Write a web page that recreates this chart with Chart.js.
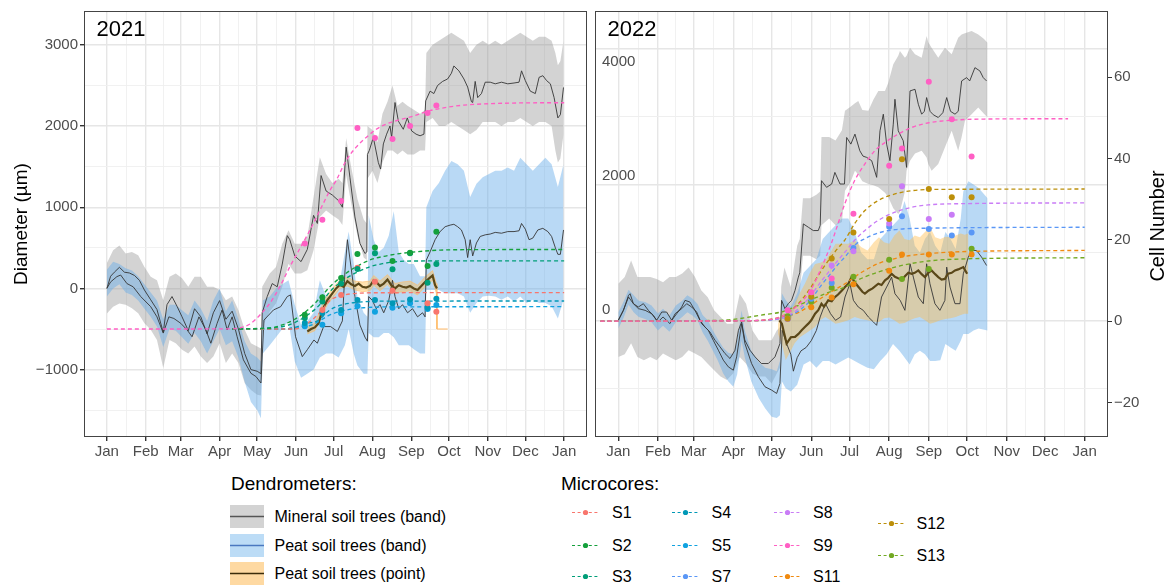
<!DOCTYPE html>
<html><head><meta charset="utf-8">
<script src="https://cdn.jsdelivr.net/npm/chart.js@4.4.1/dist/chart.umd.min.js"></script>
<style>
html,body{margin:0;padding:0;background:#fff;width:1171px;height:585px;overflow:hidden;font-family:"Liberation Sans",Arial,sans-serif;}
#c1{position:absolute;left:0;top:0;width:590px;height:470px;}
#c2{position:absolute;left:590px;top:0;width:581px;height:470px;}
.lg{position:absolute;color:#000;white-space:nowrap;font-family:"Liberation Sans",Arial,sans-serif;}
.key{position:absolute;line-height:0;}
.key svg{display:block;}
</style></head><body>
<canvas id="c1" width="590" height="470"></canvas>
<canvas id="c2" width="581" height="470"></canvas>
<script>
// ---------------- axis / label data ----------------
const monthDays = [0,31,59,90,120,151,181,212,243,273,304,334,365];
const monthLabels = ['Jan','Feb','Mar','Apr','May','Jun','Jul','Aug','Sep','Oct','Nov','Dec','Jan'];
const panelLabels = ['2021','2022'];
const yTicks21 = [-1500,-1000,-500,0,500,1000,1500,2000,2500,3000];
const yTicks22 = [-1000,0,1000,2000,3000,4000];
const yLabels22 = [4000,2000,0];
const cellTicks = [-20,0,20,40,60];
const yTitle = 'Diameter (µm)';
const y2Title = 'Cell Number';

// ---------------- 2021 dendrometers ----------------
const min21Day = [0,3,6,10,14,18,22,26,30,35,40,45,48,52,56,60,65,70,75,80,85,90,95,100,105,110,115,120,123,124,128,132,136,140,144,146,150,155,160,165,168,171,175,180,185,188,191,194,198,202,206,207.5,208,209.5,212.7,216.7,218.5,220.7,223.3,226,227.3,230,232.7,236.6,239.8,243.3,246.8,250,253.1,254.5,258,261,264,268,272,275,277,281,285,288,291,292,294,296,299,302,306,310,315,320,325,329,331,334,338,342,345,348,351,354,357,360,362,364.5];
const min21Val = [0,150,200,260,200,190,160,100,-20,-140,-260,-540,-200,-100,-220,-350,-520,-250,-350,-560,-300,-150,-380,-280,-500,-800,-1000,-1020,-1050,-300,-100,60,20,300,650,600,400,330,480,900,800,1390,1200,1150,1080,1000,1740,1370,880,555,430,450,1650,1700,1860,1550,1470,1780,1900,2000,1860,2290,2060,1960,2100,1940,1900,1880,1900,2310,2430,2400,2500,2550,2580,2650,2740,2680,2580,2480,2300,2290,2550,2350,2400,2540,2540,2520,2540,2520,2530,2540,2680,2560,2430,2400,2600,2620,2560,2520,2350,2100,2140,2475];
const min21BDay = [0,5,10,15,20,25,30,35,40,45,50,55,60,65,70,75,80,85,90,95,100,105,110,115,120,123,124,130,135,140,145,150,155,160,165,170,175,180,185,188,191,195,200,205,207.5,208,212,216,220,224,228,232,236,240,245,250,254,255,260,265,270,275,280,285,290,295,300,305,310,315,320,325,330,335,340,345,350,355,358,360,362,364.5];
const min21Hi = [310,470,530,430,450,410,265,145,100,-145,145,185,125,20,145,145,20,20,-20,-145,-100,-265,-510,-675,-715,-740,20,185,265,550,715,550,550,635,1125,1615,1410,1300,1350,1300,1850,1500,1100,850,800,2000,1950,1800,2150,2300,2500,2250,2300,2250,2200,2150,2200,2900,3000,3050,3100,3150,3100,3050,2900,3000,3050,3000,3050,3000,3050,3100,3150,3100,3050,3100,3100,3050,2900,2750,2800,3050];
const min21Lo = [-310,-225,-185,-200,-245,-305,-430,-510,-635,-980,-635,-675,-755,-800,-715,-840,-920,-840,-675,-920,-800,-920,-1165,-1250,-1310,-1320,-480,-285,-185,20,305,185,185,225,470,880,960,900,850,780,1400,1050,650,380,350,1350,1450,1300,1550,1700,1700,1650,1700,1650,1650,1700,1700,2050,2100,2000,2000,2050,2000,1950,1900,1950,2050,2050,2050,2000,2050,2050,2100,2050,2000,2050,2050,2000,1700,1550,1600,1900];

const peat21Day = [0,3,8,11,16,21,27,35,40,45,49.5,53.5,59,64,68,73.5,79,83,88,92,96,100,104,109,115,119,123,125.4,133,138.7,144,146.6,150.6,156,160,165.3,168,173,178.6,184,188,190,192,195,198,202,206,208,209,212,215,218,221,225,228,230,233,236,240,244,248,252,254,255,258,262,266,270,274,277,280,283,286,288,290,292,295,298,302,306,310,315,320,325,329,331,334,337,340,344,348,352,355,358,360,362,364.5];
const peat21Val = [0,80,145,165,60,20,-100,-225,-350,-550,-350,-370,-430,-510,-595,-350,-510,-675,-430,-265,-510,-350,-595,-880,-1045,-1085,-1165,-390,-265,-225,-100,-80,-595,-840,-755,-635,-675,-470,-470,-530,-400,200,600,250,-100,-450,-600,-650,-100,-150,-250,-200,-300,-150,100,-100,-250,-200,-300,-250,-350,-300,-350,350,450,600,700,760,780,790,760,720,600,380,600,400,560,640,660,670,690,680,700,700,710,800,730,600,620,720,740,700,640,500,420,420,720];
const peat21BDay = [0,5,10,15,20,25,30,35,40,45,50,55,60,65,70,75,80,85,90,95,100,105,110,115,120,123,124.5,130,135,140,145,150,155,160,165,170,175,180,185,190,193,197,200,205,208,209,213,217,221,225,229,233,237,241,245,250,254,255,260,265,270,275,280,285,290,295,300,305,310,315,320,325,330,335,340,345,350,355,360,364.5];
const peat21Hi = [230,330,300,250,220,150,50,-50,-150,-380,-200,-200,-270,-330,-150,-250,-400,-150,0,-280,-150,-380,-650,-800,-850,-900,-150,-100,0,50,100,-200,-450,-400,-300,100,-100,-100,0,450,700,300,-100,-300,-350,900,600,450,500,650,950,450,350,300,300,150,150,1000,1200,1300,1450,1570,1530,1450,1125,1290,1370,1410,1450,1450,1490,1450,1610,1530,1450,1530,1610,1530,1250,1530];
const peat21Lo = [-100,0,50,-50,-80,-150,-250,-350,-470,-720,-500,-520,-600,-680,-550,-650,-800,-650,-500,-700,-650,-850,-1150,-1400,-1500,-1600,-800,-700,-600,-500,-400,-900,-1100,-1050,-1000,-850,-800,-800,-850,-700,-500,-800,-950,-1050,-1050,-550,-600,-600,-550,-550,-600,-700,-700,-700,-750,-800,-800,-20,-20,-20,-60,-60,-60,-100,-300,-180,-100,-90,-100,-140,-100,-160,-100,-180,-140,-180,-180,-220,-370,-140];

const pt21Day = [160,163,166,169,172,176,180,183,186,189,192,195,198,201,204,207,210,213,215,218,221,224,227,230,233,236,239,242,245,248,251,254,257,260,262,263.5];
const pt21Val = [-530,-500,-480,-430,-265,-145,-60,0,45,20,90,50,30,60,20,10,30,100,80,30,60,110,40,0,40,20,10,30,0,-20,30,80,120,160,40,0];
const pt21BDay = [160,166,172,176,180,186,192,198,204,210,213,218,224,230,236,242,248,254,260,263,263.5,272];
const pt21Hi = [-480,-430,-200,-90,0,100,140,90,80,90,160,90,170,60,80,90,40,140,220,60,-500,-500];
const pt21Lo = [-560,-520,-320,-200,-120,0,30,-20,-40,-30,40,-30,50,-60,-40,-30,-80,20,100,-60,-500,-500];

// ---------------- 2021 microcores ----------------
const mc21Day = [158,172,187,200,214,228,242,256,263];
const s1_21 = [null,-266,-82,254,82,-29,null,-184,-286];
const s2_21 = [-323,-110,127,423,505,337,440,276,697];
const s3_21 = [-364,-160,60,239,432,235,432,71,300];
const s4_21 = [-425,-303,-266,-143,-143,-184,-135,-237,-127];
const s5_21 = [-466,-446,-307,-217,-286,-237,-184,-254,-205];
const s9_21 = [552,847,1076,1975,1853,1840,2000,2160,2254];

const s9c21Day = [0,100,110,115,122,130,138,146,154,162,170,178,183,191,199,207,215,223,231,245,258,271,285,311,338,365];
const s9c21Val = [-500,-498,-470,-430,-330,-185,20,265,490,715,960,1205,1330,1575,1740,1860,1960,2025,2065,2125,2190,2230,2258,2278,2286,2287];
const s2c21Day = [100,130,140,150,160,170,178,189,199,210,221,232,242,252,266,300,365];
const s2c21Val = [-500,-490,-450,-380,-270,-120,20,166,267,350,395,425,444,458,472,478,480];
const s3c21Day = [100,140,150,160,170,178,189,199,210,220,231,245,365];
const s3c21Val = [-500,-470,-420,-330,-200,-40,104,194,267,305,329,338,340];
const s4c21Day = [100,140,150,160,168,178,186,195,205,220,365];
const s4c21Val = [-500,-500,-480,-430,-400,-266,-210,-180,-165,-157,-155];
const s5c21Day = [100,145,155,165,178,186,195,205,220,365];
const s5c21Val = [-500,-500,-480,-440,-327,-285,-255,-238,-228,-225];
const s1c21Day = [100,150,160,170,178,190,200,220,365];
const s1c21Val = [-500,-500,-430,-300,-150,-80,-60,-53,-52];

// ---------------- 2022 dendrometers ----------------
const min22Day = [0,4,8,9.2,11.8,15.7,19.6,23.5,27.4,30,34,37.8,41.8,45.7,49.6,52.2,56,60,63.9,67.8,71.7,75.7,79.6,83.5,87.4,91.3,94,96.5,99,103,107,112,117.4,122.6,126.5,127.8,130.4,133,135.6,138.3,140.9,142,144.8,148.7,152.6,156.5,158,159,163,167,169.5,173.5,177,178.7,182,185.2,189,191.5,194.4,198.3,202.2,204.8,207.4,210,212.6,215.2,216.5,219.1,223,225.6,228.3,232.2,234.8,237.4,239.5,241.3,244,246.5,250.4,254,257,260,263.5,266,268.7,272.6,275,279.1,283,285.6,288.2];
const min22Val = [0,147,368,392,245,196,245,147,74,0,122,122,0,98,196,294,270,147,0,-98,-172,-294,-392,-490,-563,-441,-147,-24,-290,-440,-539,-637,-637,-539,-343,294,171,245,294,441,637,700,1421,1372,1323,1323,1400,2058,1960,2009,2180,2009,2009,2695,2597,2744,2499,2420,2401,2352,2107,2793,3038,2597,2352,2891,3258,2793,2646,2254,3381,3405,3185,3038,3080,3283,3080,3030,2989,3060,3283,3080,3038,3080,3528,3577,3528,3724,3675,3577,3528];
const min22BDay = [0,5,10,15,20,25,30,35,40,45,50,55,60,65,70,75,80,85,90,95,100,105,110,115,120,124,126.5,127.5,130,135,140,142,144.5,150,155,158,159,165,170,175,177.4,182,185.2,187.8,191,195.7,199.6,203.5,208.7,211.3,215.2,219.1,220.4,224.3,225.6,228.3,232.2,237.4,241.3,242.6,245.2,250.4,255.6,260.9,266,268.7,271.3,276.5,281.7,286,289];
const min22Hi = [540,640,880,640,640,640,610,560,640,640,690,780,640,440,340,150,50,-50,-50,390,245,-150,-295,-295,-295,-150,-100,500,780,490,1100,1200,1800,1800,1850,1900,2700,2700,2650,2800,3087,3150,3200,3234,3100,3087,3250,3381,3381,3500,3773,3900,3969,3871,3900,4018,3920,3871,4190,4100,4018,3871,4018,3920,4165,4214,4230,4263,4214,4150,4091];
const min22Lo = [-540,-500,-340,-540,-590,-540,-590,-490,-540,-590,-540,-440,-490,-540,-640,-735,-830,-880,-780,-540,-640,-785,-830,-830,-930,-785,-700,50,150,0,300,400,950,950,900,950,1400,1500,1400,1450,1911,2050,2205,2150,2050,2009,1990,1960,1880,1813,1650,1568,1600,1900,2205,2350,2460,2499,2400,2303,2205,2303,2548,2793,2499,2700,2940,3038,3136,3050,2989];

const peat22Day = [0,4,8,11.8,15.7,21,26,31,35,40.4,44.5,49.6,53.5,57.4,61.3,65.2,70.4,74.3,78.3,82.2,86.1,90,92.6,96.5,99.1,104.3,109.6,114.8,120,123.9,126.5,128.3,131.7,135,137,140,143,147,151,155,158,162,166,170,174,177.4,181.3,184,187.8,191.7,195.7,199.6,202.2,206,210,213.9,216.5,220.6,224.3,228.3,230.9,234.8,238.7,241.3,243.9,247.8,251.7,255.6,257,259.6,263.5,267.4,270,273.9,276.5,280.4,284.3,288.2];
const peat22Val = [0,150,343,245,172,147,98,-24,49,-49,98,171,245,196,122,-49,-147,-294,-441,-588,-686,-735,-539,-49,-343,-637,-833,-980,-1029,-1078,-931,-147,-343,-500,-750,-550,-450,-400,-300,-150,50,250,100,0,50,343,539,294,196,147,49,-24,-74,343,490,637,392,294,147,833,637,343,245,833,539,245,147,294,784,490,245,245,686,931,1029,1029,931,808];
const peat22BDay = [0,4,8,12,16,21,26,31,35,40,45,50,54,58,62,66,70,74,78,82,86,90,93,96.5,99,104,110,115,120,124,126.5,128,131,135,140,145,150,155,160,165,170,175,180,185,190,195,200,205,210,215,220,224,228,232,236,240,244,248,252,256,260,264,268,270,274,278,282,289];
const peat22Hi = [120,270,450,370,290,270,220,100,170,70,220,290,370,320,240,80,0,-150,-280,-400,-480,-500,-300,150,-150,-450,-620,-700,-720,-750,-600,400,300,200,400,700,800,900,1200,1300,1400,1500,1500,1300,1000,900,900,1200,1300,1400,1500,1760,1500,1100,1000,1200,1300,1100,1000,1300,1200,1050,1500,1900,2050,2000,1950,1800];
const peat22Lo = [-120,30,230,120,50,20,-30,-150,-80,-170,-30,50,120,70,0,-180,-300,-450,-600,-780,-900,-980,-800,-300,-550,-900,-1150,-1300,-1420,-1440,-1400,-900,-1000,-1050,-950,-650,-600,-700,-600,-600,-650,-600,-550,-600,-650,-700,-720,-600,-500,-350,-450,-550,-650,-500,-450,-500,-600,-600,-590,-350,-400,-450,-300,-200,-200,-150,-120,-150];

const pt22Day = [126,128,131.7,135,138.3,141,143.5,146,148.7,151,154,156.5,159,161,164.3,167,169.5,172,175,177.4,180,182.6,185,188,191,193,196,199,203.5,206,208.7,211,213.9,216.5,219,222,224.3,227,229.6,232,234.8,237.4,240,242.6,245.2,248,250.4,253,255.6,258,260.9,263.5,266,270,273];
const pt22Val = [0,-50,-343,-250,-245,-200,-147,-100,-49,0,98,150,245,200,294,280,343,380,441,490,540,637,560,490,420,392,440,470,539,520,590,620,686,640,620,600,650,700,686,700,735,680,637,700,735,680,637,600,610,686,700,735,750,784,686];
const pt22BDay = [125,128,131,135,138,142,146,150,154,158,162,166,170,175,180,185,190,195,200,204,208,212,216,220,224,228,232,236,240,244,248,252,256,260,264,268,271,274];
const pt22Hi = [-50,150,100,150,245,400,540,700,830,850,880,1000,1130,1130,1130,1180,1080,1030,1150,1225,1150,1130,1250,1323,1200,1180,1250,1225,1300,1372,1225,1200,1230,1225,1250,1280,1260,1280];
const pt22Lo = [-200,-350,-590,-450,-340,-250,-200,-150,-100,0,50,0,-50,-30,0,50,20,0,-20,-25,30,40,0,-49,-40,0,30,49,0,-49,-30,0,20,30,49,80,98,98];

// ---------------- 2022 microcores (cell number) ----------------
const mc22Day = [132.5,151,167,184,212,222,243,261,276.5];
const s7_22 = [0.5,5.5,9.4,18,23.2,25.8,22.7,21.1,21.8];
const s8_22 = [0.5,6.6,13.7,17.2,24,33.2,25.1,26.2,null];
const s9_22 = [2.7,7.1,10.5,26.4,38.2,42.5,58.9,49.7,40.5];
const s11_22 = [0.6,3.4,5.8,9.1,12.4,16.4,16.4,16.4,16.4];
const s12_22 = [0.6,6.0,15.4,21.8,25.1,39.8,32.5,30.5,30.5];
const s13_22 = [1.2,4.7,8.2,10.9,15.1,10.4,12.8,null,17.8];

const s9c22Day = [-14,100,115,125,130,135,140,145,151,158,166,172,177.4,185,193,201,209,219,230,243,256,282,352];
const s9c22Val = [0,0.1,0.3,0.8,1.5,2.5,3.8,5.3,7.8,12.5,18.5,24,29,34.6,38.7,42,44,46,47.7,48.8,49.3,49.7,49.8];
const s12c22Day = [-14,100,120,130,140,150,158,167,172,177.4,185,193,203.5,216.5,230,245,365];
const s12c22Val = [0,0.1,0.5,1.5,4,8,12,16,18,20,24,27.2,29.7,31.3,32.1,32.4,32.5];
const s8c22Day = [-14,100,120,130,140,150,158,167,172,177.4,185,193,203.5,216.5,229.6,242.6,268.7,365];
const s8c22Val = [0,0.1,0.4,1,2.8,6,9.5,13,15,17,19.9,22.3,24.8,26.8,28,28.6,28.9,29.1];
const s7c22Day = [-14,100,120,130,140,150,158,167,172,177.4,185,193,203.5,216.5,229.6,365];
const s7c22Val = [0,0.1,0.3,0.9,2.3,5,8.5,12,14,15.8,18.7,20.3,21.7,22.5,22.8,23.1];
const s11c22Day = [-14,100,120,130,140,150,158,167,172,177.4,185,193,203.5,216.5,229.6,242.6,268.7,365];
const s11c22Val = [0,0.1,0.4,1,2,3.8,5.5,7.3,8.2,9.2,10.9,12.5,14.2,15.4,16.2,16.6,17.1,17.4];
const s13c22Day = [-14,80,94,112,128,138,151,164,177.4,185,193,203.5,216.5,229.6,242.6,268.7,365];
const s13c22Val = [0,0.2,0.6,1.5,2.3,3.5,5.3,7,8.4,9.7,10.9,12.1,13.3,14.2,14.8,15.3,15.6];

// ---------------- legend data ----------------
const dendroLabels = ['Mineral soil trees (band)','Peat soil trees (band)','Peat soil trees (point)'];
const microNames = ['S1','S2','S3','S4','S5','S7','S8','S9','S11','S12','S13'];

// ---------------- styles ----------------
const FONT = '"Liberation Sans", Arial, Helvetica, sans-serif';
Chart.defaults.font.family = FONT;
const COL = {S1:'#F8766D',S2:'#14a03c',S3:'#009e78',S4:'#0098b6',S5:'#10a2e0',S7:'#5a97f6',S8:'#c97cf6',S9:'#ff5fc4',S11:'#f08a10',S12:'#bc8f0a',S13:'#72a923'};
const GREY_FILL = 'rgba(140,140,140,0.38)', BLUE_FILL = 'rgba(100,170,232,0.45)', ORANGE_FILL = 'rgba(255,185,70,0.42)';
const LINE_COL = '#363636', BROWN = '#5a4719';
const MAJ = '#e6e6e6', MIN = '#efefef';
const fmt = v => v < 0 ? '\u2212' + Math.abs(v) : String(v);
const P = (xs, ys) => xs.map((x, i) => ({x, y: ys[i]}));
const xMinor = monthDays.slice(1).map((d, i) => (d + monthDays[i]) / 2);
const xTicks = monthDays.concat(xMinor).sort((a, b) => a - b);

function band(xs, hi, lo, fill, order, axis, edge) {
  const bc = edge || 'rgba(0,0,0,0)';
  return [
    {data: P(xs, hi), yAxisID: axis, borderColor: bc, borderWidth: 0.7, pointRadius: 0, fill: false, order},
    {data: P(xs, lo), yAxisID: axis, borderColor: bc, borderWidth: 0.7, pointRadius: 0, fill: '-1', backgroundColor: fill, order}
  ];
}
function line(xs, ys, color, w, order, axis) {
  return {data: P(xs, ys), yAxisID: axis, borderColor: color, borderWidth: w, pointRadius: 0, fill: false, order};
}
function curve(xs, ys, color, axis) {
  return {data: P(xs, ys), yAxisID: axis, borderColor: color, borderWidth: 1.35, borderDash: [4, 3], pointRadius: 0, fill: false, cubicInterpolationMode: 'monotone', order: 20};
}
function dots(xs, ys, color, axis) {
  return {data: P(xs, ys), yAxisID: axis, showLine: false, pointRadius: 3, pointHoverRadius: 3, pointBorderWidth: 0, pointBackgroundColor: color, pointBorderColor: color, borderColor: color, order: 10};
}

function xAxis() {
  return {
    type: 'linear', min: -18.25, max: 383.25,
    afterBuildTicks: s => { s.ticks = xTicks.map(v => ({value: v})); },
    afterFit: s => { s.height = 33; },
    ticks: {autoSkip: false, maxRotation: 0, padding: 2, color: '#4d4d4d', font: {size: 15},
      callback: v => { const i = monthDays.indexOf(v); return i >= 0 ? monthLabels[i] : ''; }},
    grid: {
      color: c => (c.tick && monthDays.includes(c.tick.value)) ? MAJ : MIN,
      lineWidth: c => (c.tick && monthDays.includes(c.tick.value)) ? 1.4 : 0.9,
      tickColor: c => (c.tick && monthDays.includes(c.tick.value)) ? '#333' : 'rgba(0,0,0,0)',
      tickLength: 4, drawTicks: true
    },
    border: {display: false}
  };
}

const panelDeco = {
  id: 'panelDeco',
  afterDatasetsDraw(chart, args, opts) {
    const {ctx, chartArea: a} = chart;
    ctx.save();
    ctx.strokeStyle = '#444'; ctx.lineWidth = 1;
    ctx.strokeRect(a.left + 0.5, a.top + 0.5, a.right - a.left - 1, a.bottom - a.top - 1);
    ctx.fillStyle = '#000'; ctx.font = '22px ' + FONT; ctx.textBaseline = 'alphabetic'; ctx.textAlign = 'left';
    ctx.fillText(opts.label, a.left + 12.5, a.top + 25);
    if (opts.inner) {
      const ys = chart.scales.y;
      ctx.fillStyle = '#4d4d4d'; ctx.font = '15px ' + FONT; ctx.textBaseline = 'middle';
      opts.inner.values.forEach((v, i) => {
        ctx.fillText(fmt(v), a.left + 7, ys.getPixelForValue(v) + opts.inner.shift[i]);
      });
    }
    if (opts.rightTitle) {
      const s = chart.scales.y2;
      ctx.fillStyle = '#000'; ctx.font = '20px ' + FONT; ctx.textAlign = 'center'; ctx.textBaseline = 'middle';
      ctx.translate(s.right - 13, (a.top + a.bottom) / 2 + 2);
      ctx.rotate(-Math.PI / 2);
      ctx.fillText(opts.rightTitle, 0, 0);
    }
    ctx.restore();
  }
};

// ---------------- panel 2021 ----------------
const ds21 = [].concat(
  band(min21BDay, min21Hi, min21Lo, GREY_FILL, 60, 'y'),
  band(peat21BDay, peat21Hi, peat21Lo, BLUE_FILL, 59, 'y'),
  band(pt21BDay, pt21Hi, pt21Lo, ORANGE_FILL, 58, 'y', 'rgba(255,190,110,0.9)'),
  [line(min21Day, min21Val, LINE_COL, 0.9, 40, 'y'),
   line(peat21Day, peat21Val, LINE_COL, 0.9, 39, 'y'),
   line(pt21Day, pt21Val, BROWN, 2.2, 38, 'y'),
   curve(s9c21Day, s9c21Val, COL.S9, 'y'),
   curve(s2c21Day, s2c21Val, COL.S2, 'y'),
   curve(s3c21Day, s3c21Val, COL.S3, 'y'),
   curve(s1c21Day, s1c21Val, COL.S1, 'y'),
   curve(s4c21Day, s4c21Val, COL.S4, 'y'),
   curve(s5c21Day, s5c21Val, COL.S5, 'y'),
   dots(mc21Day, s9_21, COL.S9, 'y'),
   dots(mc21Day, s2_21, COL.S2, 'y'),
   dots(mc21Day, s3_21, COL.S3, 'y'),
   dots(mc21Day, s1_21, COL.S1, 'y'),
   dots(mc21Day, s4_21, COL.S4, 'y'),
   dots(mc21Day, s5_21, COL.S5, 'y')]
);

new Chart(document.getElementById('c1'), {
  type: 'line',
  data: {datasets: ds21},
  options: {
    responsive: false, animation: false, devicePixelRatio: 1,
    layout: {padding: {top: 10, left: 0, right: 3, bottom: 0}},
    plugins: {legend: {display: false}, tooltip: {enabled: false}, panelDeco: {label: panelLabels[0]}},
    scales: {
      x: xAxis(),
      y: {
        type: 'linear', min: -1830, max: 3417,
        afterBuildTicks: s => { s.ticks = yTicks21.map(v => ({value: v})); },
        afterFit: s => { s.width = 84; },
        ticks: {color: '#4d4d4d', font: {size: 15}, padding: 2, callback: v => v % 1000 === 0 ? fmt(v) : ''},
        grid: {
          color: c => (c.tick && c.tick.value % 1000 === 0) ? MAJ : MIN,
          lineWidth: c => (c.tick && c.tick.value % 1000 === 0) ? 1.4 : 0.9,
          tickColor: c => (c.tick && c.tick.value % 1000 === 0) ? '#333' : 'rgba(0,0,0,0)',
          tickLength: 4
        },
        border: {display: false},
        title: {display: true, text: yTitle, color: '#000', font: {size: 19}, padding: {top: 10.5, bottom: 0}}
      }
    }
  },
  plugins: [panelDeco]
});

// ---------------- panel 2022 ----------------
const ds22 = [].concat(
  band(min22BDay, min22Hi, min22Lo, GREY_FILL, 60, 'y'),
  band(peat22BDay, peat22Hi, peat22Lo, BLUE_FILL, 59, 'y'),
  band(pt22BDay, pt22Hi, pt22Lo, ORANGE_FILL, 58, 'y'),
  [line(min22Day, min22Val, LINE_COL, 0.9, 40, 'y'),
   line(peat22Day, peat22Val, LINE_COL, 0.9, 39, 'y'),
   line(pt22Day, pt22Val, BROWN, 2.2, 38, 'y'),
   curve(s9c22Day, s9c22Val, COL.S9, 'y2'),
   curve(s12c22Day, s12c22Val, COL.S12, 'y2'),
   curve(s8c22Day, s8c22Val, COL.S8, 'y2'),
   curve(s7c22Day, s7c22Val, COL.S7, 'y2'),
   curve(s11c22Day, s11c22Val, COL.S11, 'y2'),
   curve(s13c22Day, s13c22Val, COL.S13, 'y2'),
   dots(mc22Day, s9_22, COL.S9, 'y2'),
   dots(mc22Day, s12_22, COL.S12, 'y2'),
   dots(mc22Day, s8_22, COL.S8, 'y2'),
   dots(mc22Day, s7_22, COL.S7, 'y2'),
   dots(mc22Day, s11_22, COL.S11, 'y2'),
   dots(mc22Day, s13_22, COL.S13, 'y2')]
);

new Chart(document.getElementById('c2'), {
  type: 'line',
  data: {datasets: ds22},
  options: {
    responsive: false, animation: false, devicePixelRatio: 1,
    layout: {padding: {top: 10, left: 5, right: 0, bottom: 0}},
    plugins: {legend: {display: false}, tooltip: {enabled: false},
      panelDeco: {label: panelLabels[1], inner: {values: yLabels22, shift: [12.5, -9, -10]}, rightTitle: y2Title}},
    scales: {
      x: xAxis(),
      y: {
        type: 'linear', position: 'left', min: -1720, max: 4559,
        afterBuildTicks: s => { s.ticks = yTicks22.map(v => ({value: v})); },
        afterFit: s => { s.width = 0; },
        ticks: {display: false},
        grid: {
          color: c => (c.tick && c.tick.value % 2000 === 0) ? MAJ : MIN,
          lineWidth: c => (c.tick && c.tick.value % 2000 === 0) ? 1.4 : 1.0,
          drawTicks: false
        },
        border: {display: false}
      },
      y2: {
        type: 'linear', position: 'right', min: -28.5, max: 76.3,
        afterBuildTicks: s => { s.ticks = cellTicks.map(v => ({value: v})); },
        afterFit: s => { s.width = 63; },
        ticks: {color: '#4d4d4d', font: {size: 15}, padding: 2, callback: v => fmt(v)},
        grid: {drawOnChartArea: false, tickColor: '#333', tickLength: 4},
        border: {display: false},
        title: {display: false}
      }
    }
  },
  plugins: [panelDeco]
});

// ---------------- legend (HTML) ----------------
function addText(txt, x, cy, size) {
  const d = document.createElement('div');
  d.className = 'lg'; d.textContent = txt;
  d.style.left = x + 'px'; d.style.top = (cy - size * 0.59) + 'px';
  d.style.fontSize = size + 'px'; d.style.lineHeight = (size * 1.2) + 'px';
  document.body.appendChild(d);
}
function addSvg(html, x, y) {
  const d = document.createElement('div');
  d.className = 'key'; d.style.left = x + 'px'; d.style.top = y + 'px';
  d.innerHTML = html; document.body.appendChild(d);
}
addText('Dendrometers:', 231, 484, 19);
addText('Microcores:', 561, 484, 19);
const dendroFill = ['#d3d3d3', '#bcdcf6', '#fed9a2'];
const dendroLine = ['#555555', '#4a78c0', '#3b2c0a'];
const dendroTop = [505, 533.5, 562];
dendroLabels.forEach((t, i) => {
  addSvg(`<svg width="34" height="23"><rect x="0" y="0" width="34" height="23" fill="${dendroFill[i]}"/><line x1="0" y1="11.5" x2="34" y2="11.5" stroke="${dendroLine[i]}" stroke-width="1.3"/></svg>`, 230, dendroTop[i]);
  addText(t, 274.5, dendroTop[i] + 11.5, 16);
});
const colKeyX = [572, 671.5, 773.5, 877.5], colLabX = [612, 711.5, 813, 916.5];
const rowsA = [512.5, 545, 576], rowsB = [523, 555.5];
microNames.forEach((n, i) => {
  const col = Math.min(3, Math.floor(i / 3));
  const row = i - col * 3;
  const cy = col < 3 ? rowsA[row] : rowsB[row];
  const c = COL[n];
  addSvg(`<svg width="27" height="9"><line x1="0" y1="4.5" x2="27" y2="4.5" stroke="${c}" stroke-width="1.2" stroke-dasharray="3 2.6"/><circle cx="13.5" cy="4.5" r="2.6" fill="${c}"/></svg>`, colKeyX[col], cy - 4.5);
  addText(n, colLabX[col], cy, 16);
});
</script>
</body></html>
